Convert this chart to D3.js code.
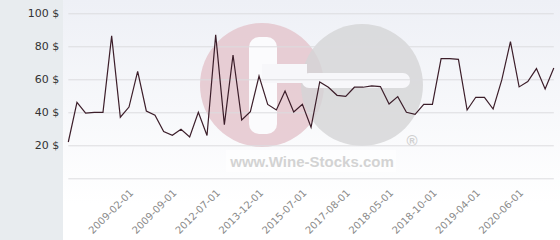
<!DOCTYPE html>
<html>
<head>
<meta charset="utf-8">
<script src="https://cdn.jsdelivr.net/npm/d3@7/dist/d3.min.js"></script>
<style>
  body { margin: 0; background: #fff; }
  text { font-family: "DejaVu Sans", sans-serif; }
</style>
</head>
<body>
<script>
// price per point, left to right
var prices = [22, 46, 39.5, 40, 40, 86.3, 37, 43.2, 64.8, 40.8, 38.2, 28.3,
  26.1, 29.7, 25.1, 40, 25.9, 86.9, 32.5, 74.7, 35.4, 40.4, 62,
  44.8, 41.4, 52.9, 40.2, 44.8, 30.9, 58.4, 55.2, 50.3, 49.7, 55.2,
  55.2, 56, 55.6, 45, 49.5, 40, 38.8, 44.8, 44.8, 72.5, 72.5,
  72.1, 41.4, 49.1, 49.1, 42, 59.6, 82.8, 55.4, 58.6, 66.5, 54.1, 66.9];
var tickLabels = ["2009-02-01", "2009-09-01", "2012-07-01", "2013-12-01", "2015-07-01",
  "2017-08-01", "2018-05-01", "2018-10-01", "2019-04-01", "2020-06-01"];
var tickAt = [7, 12, 17, 22, 27, 32, 37, 42, 47, 52];
var yTicks = [20, 40, 60, 80, 100];

var W = 560, H = 240;
var svg = d3.select("body").append("svg").attr("width", W).attr("height", H);

var defs = svg.append("defs");
var grad = defs.append("linearGradient").attr("id", "bg").attr("x1", 0).attr("y1", 0).attr("x2", 0).attr("y2", 1);
grad.append("stop").attr("offset", "0%").attr("stop-color", "#eef0f6");
grad.append("stop").attr("offset", "85%").attr("stop-color", "#ffffff");

svg.append("rect").attr("width", 63).attr("height", H).attr("fill", "#e8ecef");
svg.append("rect").attr("x", 63).attr("width", W - 63).attr("height", H).attr("fill", "url(#bg)");

var x = d3.scalePoint().domain(d3.range(prices.length)).range([68.3, 553.8]);
var y = d3.scaleLinear().domain([0, 100]).range([178.3, 13.3]);

// watermark
var wm = svg.append("g");
wm.append("circle").attr("cx", 262).attr("cy", 85).attr("r", 62).attr("fill", "#e3c3cb").attr("opacity", 0.8);
wm.append("circle").attr("cx", 362).attr("cy", 85).attr("r", 61).attr("fill", "#d4d4d6").attr("opacity", 0.8);
wm.append("rect").attr("x", 249).attr("y", 37).attr("width", 28).attr("height", 97).attr("rx", 10).attr("fill", "#fbfbfd");
wm.append("rect").attr("x", 262).attr("y", 64).attr("width", 45).attr("height", 19).attr("fill", "#f7f7fa");
wm.append("rect").attr("x", 302).attr("y", 73).attr("width", 108).attr("height", 15).attr("rx", 7).attr("fill", "#f7f7fa");
wm.append("rect").attr("x", 226).attr("y", 150).attr("width", 170).attr("height", 22).attr("fill", "#ffffff").attr("opacity", 0.5);
wm.append("text").attr("x", 312).attr("y", 167).attr("text-anchor", "middle")
  .style("font", "bold 15px 'Liberation Sans', Arial, sans-serif").attr("fill", "#d3d3d3")
  .text("www.Wine-Stocks.com");
wm.append("text").attr("x", 412).attr("y", 146).attr("text-anchor", "middle")
  .style("font", "bold 15px 'Liberation Sans', Arial, sans-serif").attr("fill", "#d0d0d0")
  .text("®");

// grid + y labels
var yAxis = svg.append("g").attr("transform", "translate(68.3,0)")
  .call(d3.axisLeft(y).tickValues([0].concat(yTicks)).tickSize(-(553.8 - 68.3)).tickPadding(9)
    .tickFormat(function (d) { return d ? d + " $" : ""; }));
yAxis.select(".domain").remove();
yAxis.selectAll("line").attr("stroke", "#dcdcdf");
yAxis.selectAll("text").style("font-size", "11px").attr("fill", "#333");

// x labels
var xAxis = svg.append("g").attr("transform", "translate(2,191)")
  .call(d3.axisBottom(x).tickValues(tickAt).tickSize(0)
    .tickFormat(function (d) { return tickLabels[tickAt.indexOf(d)]; }));
xAxis.select(".domain").remove();
xAxis.selectAll("text")
  .style("font-size", "10px").attr("fill", "#8a8a8a")
  .attr("text-anchor", "end").attr("dy", "0.35em").attr("y", 0)
  .attr("transform", "rotate(-45)");

var line = d3.line().x(function (d, i) { return x(i); }).y(function (d) { return y(d); });
svg.append("path").datum(prices).attr("d", line)
  .attr("fill", "none").attr("stroke", "#3c1e2a").attr("stroke-width", 1.2);
</script>
</body>
</html>
